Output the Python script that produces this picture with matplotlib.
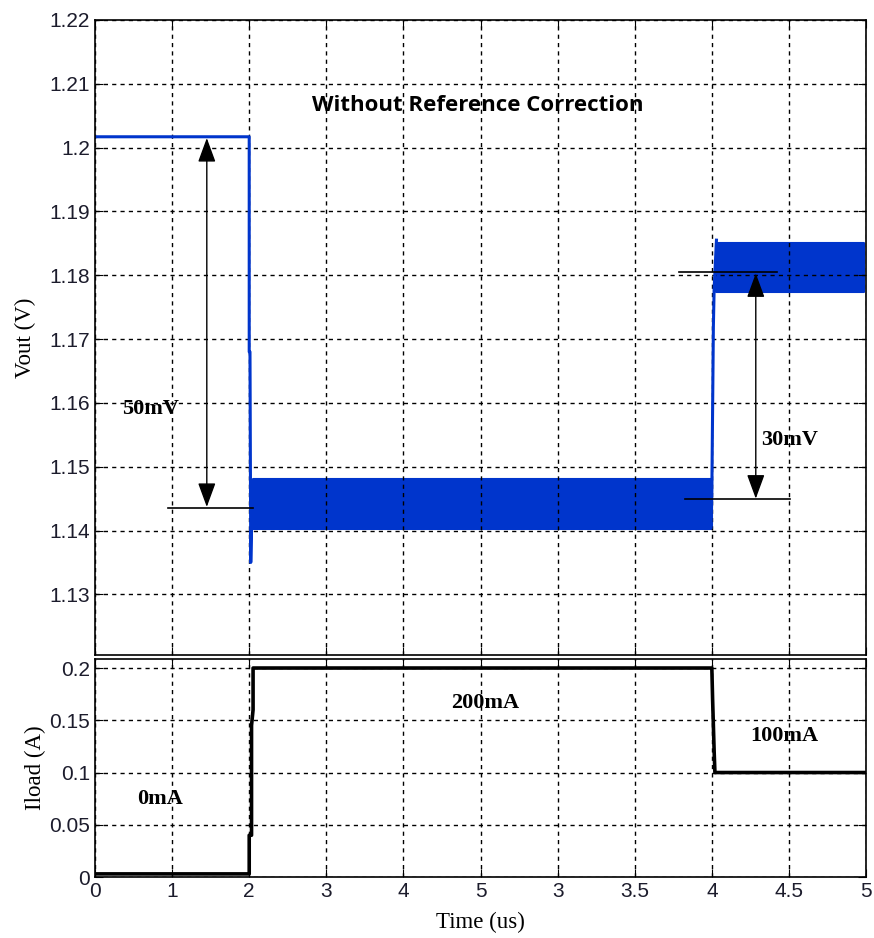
"""Load transient: Vout and Iload vs time, two stacked panels."""

import matplotlib
matplotlib.use("Agg")
import matplotlib.pyplot as plt

# x positions are evenly spaced slots; labels follow the original axis
x_slots = list(range(11))
x_labels = ["0", "1", "2", "3", "4", "5", "3", "3.5", "4", "4.5", "5"]

# Vout trace (edges), ripple envelopes
vout_t = [0.0, 2.0, 2.0, 2.01, 2.02, 2.03, 2.05]
vout_v = [1.2017, 1.2017, 1.168, 1.168, 1.135, 1.1405, 1.1478]
ripple1_t = [2.05, 8.0]
ripple1_lo = [1.1402, 1.1402]
ripple1_hi = [1.1480, 1.1480]
rise_t = [7.99, 8.0, 8.02, 8.03, 8.06]
rise_v = [1.1405, 1.146, 1.172, 1.178, 1.1855]
ripple2_t = [8.06, 9.97]
ripple2_lo = [1.1773, 1.1773]
ripple2_hi = [1.1850, 1.1850]

# Iload trace
iload_t = [0.0, 2.0, 2.0, 2.03, 2.03, 2.05, 2.05, 8.0, 8.01, 8.03, 8.04, 10.0]
iload_a = [0.003, 0.003, 0.04, 0.04, 0.145, 0.16, 0.2, 0.2, 0.17, 0.12, 0.1, 0.1]

vout_ticks = [1.13, 1.14, 1.15, 1.16, 1.17, 1.18, 1.19, 1.20, 1.21, 1.22]
vout_tick_labels = ["1.13", "1.14", "1.15", "1.16", "1.17", "1.18", "1.19", "1.2", "1.21", "1.22"]
iload_ticks = [0, 0.05, 0.1, 0.15, 0.2]
iload_tick_labels = ["0", "0.05", "0.1", "0.15", "0.2"]

BLUE = "#0035cc"
SANS = "Liberation Sans"
SERIF = "Liberation Serif"
TICK_COLOR = "#1c1c2c"
GRID = dict(color="black", linestyle=(0, (3, 3)), linewidth=1.0)


def style_axes(ax):
    ax.set_xlim(0, 10)
    ax.set_xticks(x_slots)
    ax.grid(True, **GRID)
    ax.tick_params(direction="in", top=True, right=True, length=6,
                   labelsize=15, labelcolor=TICK_COLOR)
    for lab in ax.get_xticklabels() + ax.get_yticklabels():
        lab.set_fontfamily(SANS)
    for s in ax.spines.values():
        s.set_linewidth(1.2)


fig = plt.figure(figsize=(8.74, 9.38), dpi=100)
ax1 = fig.add_axes([0.1087, 0.3017, 0.8822, 0.677])
ax2 = fig.add_axes([0.1087, 0.065, 0.8822, 0.2324])

# --- top panel: Vout
ax1.plot(vout_t, vout_v, color=BLUE, lw=2.2)
ax1.fill_between(ripple1_t, ripple1_lo, ripple1_hi, color=BLUE, lw=1.5, edgecolor=BLUE)
ax1.plot(rise_t, rise_v, color=BLUE, lw=2.2)
ax1.fill_between(ripple2_t, ripple2_lo, ripple2_hi, color=BLUE, lw=1.5, edgecolor=BLUE)
ax1.set_ylim(1.1205, 1.22)
ax1.set_yticks(vout_ticks)
ax1.set_yticklabels(vout_tick_labels)
style_axes(ax1)
ax1.set_xticklabels([])
ax1.set_ylabel("Vout (V)", family=SERIF, fontsize=16.5, labelpad=10)

arrow = dict(arrowstyle="<|-|>,head_length=1.5,head_width=0.55", color="black",
             lw=1.0, shrinkA=0, shrinkB=0)
ax1.annotate("", xy=(1.45, 1.2015), xytext=(1.45, 1.1437), arrowprops=arrow)
ax1.plot([0.95, 2.05], [1.1435, 1.1435], color="black", lw=1.2)
ax1.text(0.35, 1.159, "50mV", family=SERIF, weight="bold", fontsize=16,
         va="center", ha="left")

ax1.annotate("", xy=(8.57, 1.1803), xytext=(8.57, 1.1450), arrowprops=arrow)
ax1.plot([7.58, 8.84], [1.1805, 1.1805], color="black", lw=1.2)
ax1.plot([7.65, 9.01], [1.1450, 1.1450], color="black", lw=1.2)
ax1.text(8.64, 1.1542, "30mV", family=SERIF, weight="bold", fontsize=16,
         va="center", ha="left")

ax1.text(4.96, 1.2066, "Without Reference Correction", family="Open Sans",
         weight="bold", fontsize=16, ha="center", va="center")

# --- bottom panel: Iload
ax2.plot(iload_t, iload_a, color="black", lw=2.6)
ax2.set_ylim(0, 0.2086)
ax2.set_yticks(iload_ticks)
ax2.set_yticklabels(iload_tick_labels)
style_axes(ax2)
ax2.set_xticklabels(x_labels)
for lab in ax2.get_xticklabels():
    lab.set_fontfamily(SANS)
ax2.set_ylabel("Iload (A)", family=SERIF, fontsize=16.5, labelpad=2)
ax2.set_xlabel("Time (us)", family=SERIF, fontsize=16.5, labelpad=8)

ax2.text(0.55, 0.075, "0mA", family=SERIF, weight="bold", fontsize=16, va="center")
ax2.text(5.06, 0.1665, "200mA", family=SERIF, weight="bold", fontsize=16,
         va="center", ha="center")
ax2.text(8.94, 0.135, "100mA", family=SERIF, weight="bold", fontsize=16,
         va="center", ha="center")

fig.savefig("out.png", dpi=100)
